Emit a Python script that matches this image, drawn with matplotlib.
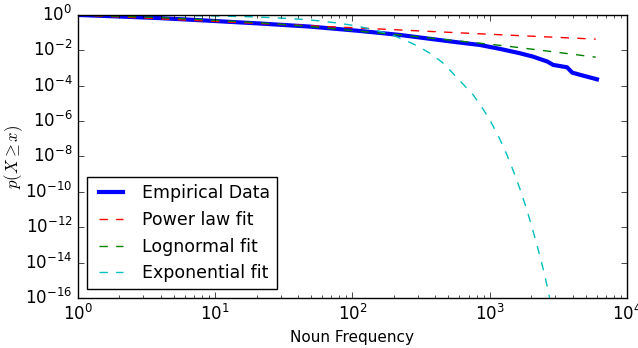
#!/usr/bin/env python3

import numpy as np
import matplotlib
matplotlib.use('Agg')
import matplotlib.pyplot as plt

# values
emp_x = [1, 2, 4, 9.2, 21, 49, 113, 222, 514, 850, 1190, 1660, 2065,
         2630, 2890, 3650, 3980, 4550, 6030]
emp_y = [1.0, 0.82, 0.66, 0.47, 0.33, 0.22, 0.125, 0.074, 0.032, 0.020,
         0.012, 0.0068, 0.0044, 0.0023, 0.0015, 0.0011, 0.00055, 0.00041,
         0.00023]

pow_x = [1, 10, 100, 1000, 5900]
pow_y = [1.0, 0.43, 0.19, 0.081, 0.043]

logn_x = [1, 4, 10, 25, 50, 113, 224, 513, 1000, 1290, 2750, 5900]
logn_y = [1.0, 0.71, 0.50, 0.33, 0.22, 0.12, 0.074, 0.038, 0.022, 0.0178,
          0.0087, 0.0041]

exp_x = [1, 5, 10.8, 20, 33.3, 45, 58, 80, 100, 119, 145, 175, 205, 241,
         300, 367, 450, 539, 640, 757, 870, 1000, 1150, 1280, 1410, 1530,
         1660, 1850, 2040, 2220, 2410, 2560, 2700, 2800]
exp_y = [1.0, 0.95, 0.87, 0.77, 0.64, 0.55, 0.46, 0.34, 0.26, 0.20, 0.14,
         0.095, 0.062, 0.038, 0.017, 0.0068, 2.1e-3, 5.0e-4, 1.2e-4,
         3.0e-5, 6.5e-6, 1.15e-6, 1.5e-7, 2.5e-8, 4.2e-9, 8.0e-10, 1.4e-10,
         1.1e-11, 8.5e-13, 8.0e-14, 7.0e-15, 9.5e-16, 1.4e-16, 3.5e-17]


def main():
    plt.style.use('classic')
    fig = plt.figure(figsize=(6.38, 3.48), dpi=100, facecolor='white')
    ax = fig.add_axes([0.122, 0.144, 0.861, 0.813])

    ax.loglog(emp_x, emp_y, 'b-', lw=3, label='Empirical Data')
    ax.loglog(pow_x, pow_y, 'r--', lw=1, label='Power law fit')
    ax.loglog(logn_x, logn_y, 'g--', lw=1, label='Lognormal fit')
    ax.loglog(exp_x, exp_y, 'c--', lw=1, label='Exponential fit')

    ax.set_xlim(1, 1e4)
    ax.set_ylim(1e-16, 1)
    ax.set_yticks(10.0 ** np.arange(-16, 1, 2))
    ax.yaxis.set_minor_locator(matplotlib.ticker.NullLocator())
    ax.tick_params(labelsize=12)

    ax.set_xlabel('Noun Frequency', fontsize=11)
    ax.set_ylabel(r'$p(X\geq x)$', fontsize=12)
    ax.yaxis.set_label_coords(-0.097, 0.5)
    ax.legend(loc='lower left', fontsize=12.5)

    fig.savefig('out.png', dpi=100, facecolor='white')


if __name__ == '__main__':
    main()
